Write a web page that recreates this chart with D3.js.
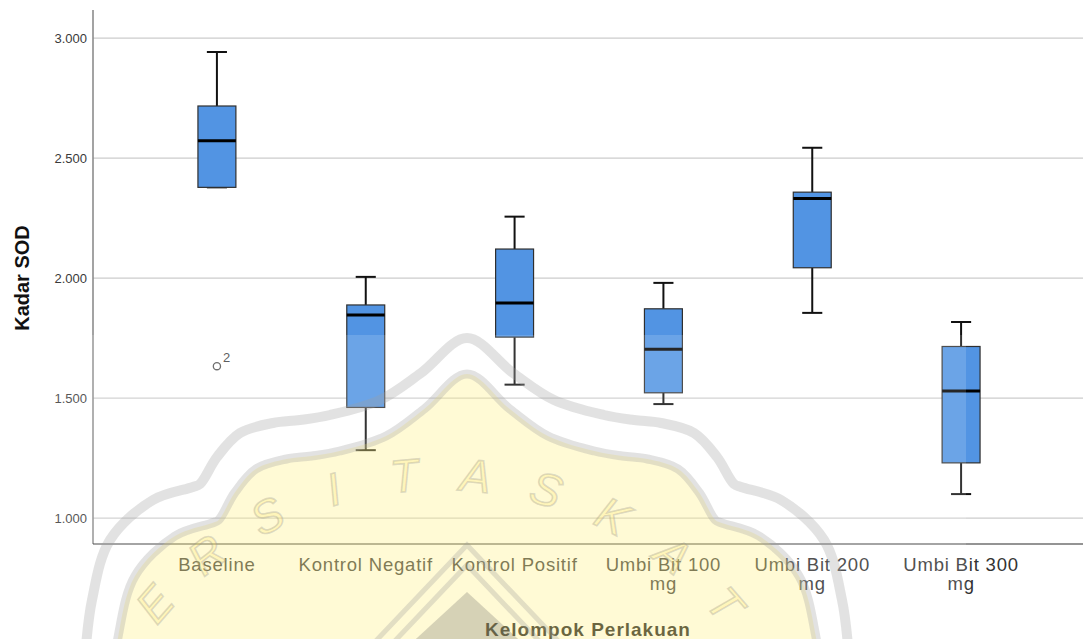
<!DOCTYPE html>
<html>
<head>
<meta charset="utf-8">
<script src="https://cdn.jsdelivr.net/npm/d3@7"></script>
<style>
  html, body { margin: 0; padding: 0; background: #fff; }
  svg { display: block; }
  text { font-family: "Liberation Sans", Arial, sans-serif; }
</style>
</head>
<body>
<svg id="chart" width="1083" height="639"></svg>
<script>
// ---------------- data ----------------
const categories = ["Baseline", "Kontrol Negatif", "Kontrol Positif", "Umbi Bit 100 mg", "Umbi Bit 200 mg", "Umbi Bit 300 mg"];
const whiskerLow  = [2378, 1283, 1556, 1475, 1855, 1100];
const quartile1   = [2378, 1461, 1754, 1522, 2043, 1230];
const medians     = [2572, 1846, 1896, 1703, 2332, 1530];
const quartile3   = [2717, 1888, 2121, 1872, 2358, 1715];
const whiskerHigh = [2942, 2005, 2256, 1980, 2543, 1817];
const outlierCategory = ["Baseline"];
const outlierValue    = [1633];
const outlierLabel    = ["2"];
const yTicks = [1000, 1500, 2000, 2500, 3000];
const yTitle = "Kadar SOD";
const xTitle = "Kelompok Perlakuan";

// ---------------- setup ----------------
const W = 1083, H = 639;
const svg = d3.select("#chart");
const plot = { left: 93, right: 1083, top: 10, bottom: 544 };

const x = d3.scaleBand().domain(categories).range([142.5, 1035.5]).padding(0);
const y = d3.scaleLinear().domain([892, 3117]).range([plot.bottom, plot.top]);

const locale = d3.formatLocale({ decimal: ",", thousands: ".", grouping: [3], currency: ["Rp", ""] });
const fmt = locale.format(",.0f");

// gridlines
svg.append("g").selectAll("line").data(yTicks).join("line")
  .attr("x1", plot.left).attr("x2", plot.right)
  .attr("y1", d => y(d)).attr("y2", d => y(d))
  .attr("stroke", "#cccccc").attr("stroke-width", 1.2);

// y axis
const yAxis = svg.append("g").attr("transform", `translate(${plot.left},0)`)
  .call(d3.axisLeft(y).tickValues(yTicks).tickFormat(fmt).tickSize(0).tickPadding(6));
yAxis.select(".domain").remove();
yAxis.selectAll("text").attr("font-size", 13).attr("fill", "#3a3a3a")
  .attr("font-family", "'Liberation Sans', Arial, sans-serif");
svg.append("line").attr("x1", plot.left).attr("x2", plot.left)
  .attr("y1", plot.top).attr("y2", plot.bottom)
  .attr("stroke", "#8c8c8c").attr("stroke-width", 1.6);

// x axis line
svg.append("line").attr("x1", plot.left).attr("x2", plot.right)
  .attr("y1", plot.bottom).attr("y2", plot.bottom)
  .attr("stroke", "#2a2a2a").attr("stroke-width", 1.2);

// boxes
const rows = categories.map((c, i) => ({
  c, lo: whiskerLow[i], q1: quartile1[i], med: medians[i], q3: quartile3[i], hi: whiskerHigh[i]
}));
const bw = x.bandwidth() * 0.255;
const cw = x.bandwidth() * 0.135;
const g = svg.append("g").selectAll("g").data(rows).join("g")
  .attr("transform", d => `translate(${x(d.c) + x.bandwidth() / 2},0)`);

g.append("line").attr("x1", 0).attr("x2", 0).attr("y1", d => y(d.q3)).attr("y2", d => y(d.hi))
  .attr("stroke", "#111").attr("stroke-width", 2);
g.append("line").attr("x1", 0).attr("x2", 0).attr("y1", d => y(d.q1)).attr("y2", d => y(d.lo))
  .attr("stroke", "#111").attr("stroke-width", 2);
g.append("line").attr("x1", -cw / 2).attr("x2", cw / 2).attr("y1", d => y(d.hi)).attr("y2", d => y(d.hi))
  .attr("stroke", "#111").attr("stroke-width", 2);
g.append("line").attr("x1", -cw / 2).attr("x2", cw / 2).attr("y1", d => y(d.lo)).attr("y2", d => y(d.lo))
  .attr("stroke", "#111").attr("stroke-width", 2);
g.append("rect").attr("x", -bw / 2).attr("width", bw)
  .attr("y", d => y(d.q3)).attr("height", d => y(d.q1) - y(d.q3))
  .attr("fill", "#5294e3").attr("stroke", "#2f2f2f").attr("stroke-width", 1.2);
g.append("line").attr("x1", -bw / 2).attr("x2", bw / 2).attr("y1", d => y(d.med)).attr("y2", d => y(d.med))
  .attr("stroke", "#000").attr("stroke-width", 3);

// outliers
outlierValue.forEach((v, i) => {
  const cx = x(outlierCategory[i]) + x.bandwidth() / 2;
  svg.append("circle").attr("cx", cx).attr("cy", y(v)).attr("r", 3.6)
    .attr("fill", "none").attr("stroke", "#555").attr("stroke-width", 1.3);
  svg.append("text").attr("x", cx + 6).attr("y", y(v) - 4).attr("font-size", 13).attr("fill", "#444")
    .text(outlierLabel[i]);
});

// category labels (wrapped)
const labG = svg.append("g");
categories.forEach(c => {
  const cxx = x(c) + x.bandwidth() / 2;
  const t = labG.append("text").attr("text-anchor", "middle")
    .attr("font-size", 18.5).attr("letter-spacing", 0.8).attr("fill", "#333")
    .attr("x", cxx).attr("y", 571);
  t.append("tspan").attr("x", cxx).text(c);
  const len = t.node().getComputedTextLength();
  if (len > x.bandwidth() * 0.95) {
    const words = c.split(" ");
    const last = words.pop();
    t.text(null);
    t.append("tspan").attr("x", cxx).text(words.join(" "));
    t.append("tspan").attr("x", cxx).attr("dy", 19).text(last);
  }
});

// axis titles
svg.append("text").attr("x", 588).attr("y", 636).attr("text-anchor", "middle")
  .attr("font-size", 19).attr("font-weight", "bold").attr("letter-spacing", 1.0).attr("fill", "#111")
  .text(xTitle);
svg.append("text").attr("transform", `translate(29,278) rotate(-90)`)
  .attr("text-anchor", "middle").attr("font-size", 20).attr("font-weight", "bold").attr("fill", "#111")
  .text(yTitle);

// ---------------- watermark overlay (decorative logo) ----------------
const wm = svg.append("g").attr("pointer-events", "none");
const cxL = 467, peakY = 338;
const half = [[0,0],[46,35],[87,62],[137,77],[167,82],[194,85],[227,95],[250,119],[267,146],[274,149],[314,162],[357,202],[375,262],[382,320]];
const outerPts = half.slice().reverse().map(p => [cxL - p[0], peakY + p[1]])
  .concat(half.slice(1).map(p => [cxL + p[0], peakY + p[1]]));
const innerPts = outerPts.map(p => [cxL + (p[0] - cxL) * 0.93, p[1] + 36]);
const line = d3.line().curve(d3.curveCatmullRom.alpha(0.5));

wm.append("rect").attr("x", 0).attr("y", 335).attr("width", 966).attr("height", H - 335)
  .attr("fill", "#fff").attr("opacity", 0.15);
wm.append("path").attr("d", line(innerPts) + "Z")
  .attr("fill", "rgba(255,236,100,0.27)").attr("stroke", "none");
wm.append("path").attr("d", line(outerPts)).attr("fill", "none")
  .attr("stroke", "rgba(160,160,160,0.3)").attr("stroke-width", 10);
wm.append("path").attr("d", line(innerPts)).attr("fill", "none")
  .attr("stroke", "rgba(160,160,160,0.3)").attr("stroke-width", 9);

// arc letters of the logo, placed one by one
const logoLetters = "UNIVERSITASKATOLIK".split("");
const ccx = 440, ccy = 852, R = 378, step = 0.19;
logoLetters.forEach((ch, i) => {
  const th = (i - 8.5) * step;
  const lx = ccx + R * Math.sin(th), ly = ccy - R * Math.cos(th);
  if (ly > 615 || ly < 0) return;
  wm.append("text")
    .attr("transform", `translate(${lx},${ly}) rotate(${th * 180 / Math.PI})`)
    .attr("text-anchor", "middle").attr("dy", "0.35em")
    .attr("font-family", "'Liberation Serif', 'DejaVu Serif', serif")
    .attr("font-size", 46).attr("font-style", "italic")
    .attr("fill", "rgba(255,228,90,0.22)").attr("stroke", "rgba(140,140,140,0.3)").attr("stroke-width", 1.6)
    .text(ch);
});

[545, 565].forEach(py => {
  const dy = H + 10 - py;
  wm.append("path").attr("d", `M${cxL - dy * 0.95},${H + 10} L${cxL},${py} L${cxL + dy * 0.95},${H + 10}`)
    .attr("fill", "none").attr("stroke", "rgba(150,150,150,0.28)").attr("stroke-width", 5);
});
wm.append("path").attr("d", `M${cxL - 62},${H + 10} L${cxL},${592} L${cxL + 62},${H + 10}Z`)
  .attr("fill", "rgba(90,90,90,0.25)");
</script>
</body>
</html>
